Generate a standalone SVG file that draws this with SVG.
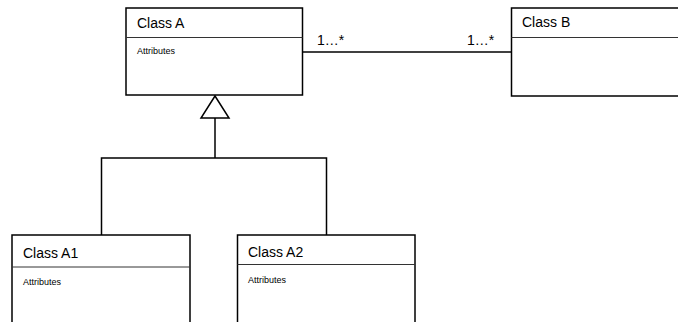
<svg xmlns="http://www.w3.org/2000/svg" width="678" height="322" viewBox="0 0 678 322">
<style>
.box{fill:#fff;stroke:#000;stroke-width:1.5}
.div{stroke:#333;stroke-width:1}
.title{font-family:"Liberation Sans",Arial,sans-serif;font-size:14px;fill:#000}
.attr{font-family:"Liberation Sans",Arial,sans-serif;font-size:9px;fill:#000}
.lbl{font-family:"Liberation Sans",Arial,sans-serif;font-size:14px;fill:#000}
.con{fill:none;stroke:#000;stroke-width:1.5}
</style>
<rect width="678" height="322" fill="#fff"/>
<g id="connectors">
<line class="con" x1="303" y1="52" x2="511" y2="52"/>
<text class="lbl" x="317" y="45">1…*</text>
<text class="lbl" x="467" y="45">1…*</text>
<polygon class="con" fill="#fff" points="215,96 201,118 229,118" style="fill:#fff"/>
<polyline class="con" points="215,118 215,158"/>
<polyline class="con" points="101.5,235 101.5,158 326.5,158 326.5,235"/>
</g>
<g id="classA">
<rect class="box" x="126" y="8" width="176.5" height="87"/>
<line class="div" x1="126" y1="37.5" x2="302.5" y2="37.5"/>
<text class="title" x="137" y="28">Class A</text>
<text class="attr" x="137" y="54">Attributes</text>
</g>
<g id="classB">
<rect class="box" x="511.5" y="8" width="180" height="88"/>
<line class="div" x1="511.5" y1="37.5" x2="678" y2="37.5"/>
<text class="title" x="522" y="27">Class B</text>
</g>
<g id="classA1">
<rect class="box" x="12" y="235" width="178" height="100"/>
<line class="div" x1="12" y1="267" x2="190" y2="267"/>
<text class="title" x="23" y="258">Class A1</text>
<text class="attr" x="23" y="285">Attributes</text>
</g>
<g id="classA2">
<rect class="box" x="237.5" y="235" width="177.5" height="100"/>
<line class="div" x1="237.5" y1="264.5" x2="415" y2="264.5"/>
<text class="title" x="248" y="257">Class A2</text>
<text class="attr" x="248" y="283">Attributes</text>
</g>
</svg>
